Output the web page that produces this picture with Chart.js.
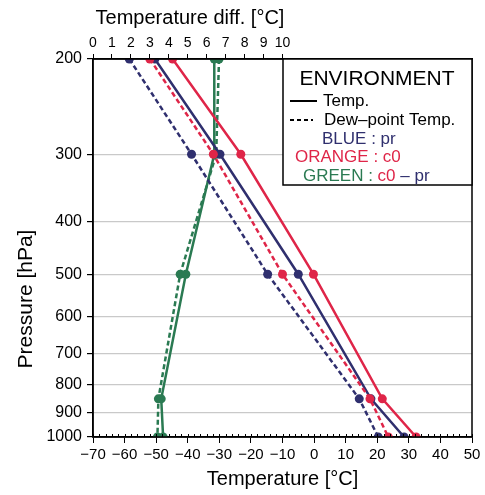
<!DOCTYPE html>
<html>
<head>
<meta charset="utf-8">
<script src="https://cdn.jsdelivr.net/npm/chart.js@4/dist/chart.umd.min.js"></script>
<style>
  html, body { margin: 0; padding: 0; background: #fff; }
  canvas { display: block; }
</style>
</head>
<body>
<canvas id="sounding" width="485" height="495"></canvas>
<script>
// pressure levels with data (hPa) and axis tick levels
const levels = [200, 300, 500, 850, 1000];
const pressureTicks = [200, 300, 400, 500, 600, 700, 800, 900, 1000];
const tempTicks = [-70, -60, -50, -40, -30, -20, -10, 0, 10, 20, 30, 40, 50];
const diffTicks = [0, 1, 2, 3, 4, 5, 6, 7, 8, 9, 10];

// environment profiles (degC)
const prTemp = [-50.4, -29.8, -5.0, 18.0, 28.5];
const prDew = [-58.5, -38.8, -14.7, 14.3, 20.3];
const c0Temp = [-44.8, -23.2, -0.2, 21.6, 32.3];
const c0Dew = [-52.0, -31.9, -10.0, 17.7, 23.5];
// c0 - pr differences (top axis)
const diffTemp = [6.4, 6.4, 4.9, 3.6, 3.7];
const diffDew = [6.65, 6.5, 4.6, 3.45, 3.4];

const BLUE = "#2f2f6e";
const RED = "#df2548";
const GREEN = "#2a7a52";
const FONT = "'Liberation Sans', Arial, Helvetica, sans-serif";

function profile(values, color, dashed, axis) {
    return {
        data: values.map((v, i) => ({ x: v, y: levels[i] })),
        xAxisID: axis,
        yAxisID: "y",
        borderColor: color,
        backgroundColor: color,
        borderWidth: 2.5,
        borderDash: dashed ? [5, 3] : [],
        pointRadius: 4.5,
        pointHoverRadius: 4.5,
        pointBorderWidth: 0,
        showLine: true,
        tension: 0,
    };
}

const minus = v => (v < 0 ? "\u2212" + Math.abs(v) : String(v));

const extras = {
    id: "extras",
    afterDraw(chart) {
        const { ctx, chartArea: a } = chart;
        const xs = chart.scales.x;
        ctx.save();

        // frame
        ctx.strokeStyle = "#000";
        ctx.lineWidth = 1.5;
        ctx.strokeRect(a.left, a.top, a.right - a.left, a.bottom - a.top);

        // minor ticks along the bottom axis
        ctx.lineWidth = 1;
        ctx.beginPath();
        for (let t = -70; t <= 50; t += 2) {
            const px = Math.round(xs.getPixelForValue(t)) + 0.5;
            ctx.moveTo(px, a.bottom);
            ctx.lineTo(px, a.bottom - 3);
        }
        ctx.stroke();

        // axis titles
        ctx.fillStyle = "#000";
        ctx.font = "20px " + FONT;
        ctx.textAlign = "center";
        ctx.textBaseline = "middle";
        ctx.fillText("Temperature diff. [\u00b0C]", 190, 18);
        ctx.fillText("Temperature [\u00b0C]", (a.left + a.right) / 2, 479);
        ctx.save();
        ctx.translate(26, 299);
        ctx.rotate(-Math.PI / 2);
        ctx.font = "21px " + FONT;
        ctx.fillText("Pressure [hPa]", 0, 0);
        ctx.restore();

        // legend box
        const bx = 283, by = a.top, bw = a.right - 283, bh = 185 - a.top;
        ctx.fillStyle = "#fff";
        ctx.fillRect(bx, by, bw, bh);
        ctx.strokeStyle = "#000";
        ctx.lineWidth = 1.5;
        ctx.strokeRect(bx, by, bw, bh);

        ctx.fillStyle = "#000";
        ctx.font = "21px " + FONT;
        ctx.fillText("ENVIRONMENT", 377, 79);

        ctx.font = "17px " + FONT;
        ctx.textAlign = "left";
        ctx.lineWidth = 2;
        ctx.beginPath();
        ctx.moveTo(290, 101);
        ctx.lineTo(317, 101);
        ctx.stroke();
        ctx.fillText("Temp.", 323, 101);
        ctx.setLineDash([4, 3]);
        ctx.beginPath();
        ctx.moveTo(290, 120);
        ctx.lineTo(313, 120);
        ctx.stroke();
        ctx.setLineDash([]);
        ctx.fillText("Dew\u2013point Temp.", 324, 120);

        const runs = (x, y, parts) => {
            for (const [txt, col] of parts) {
                ctx.fillStyle = col;
                ctx.fillText(txt, x, y);
                x += ctx.measureText(txt).width;
            }
        };
        runs(322, 139, [["BLUE : pr", BLUE]]);
        runs(295, 157, [["ORANGE : c0", RED]]);
        runs(303, 176, [["GREEN : ", GREEN], ["c0", RED], [" \u2013 pr", BLUE]]);

        ctx.restore();
    },
};

new Chart(document.getElementById("sounding"), {
    type: "scatter",
    data: {
        datasets: [
            profile(c0Temp, RED, false, "x"),
            profile(c0Dew, RED, true, "x"),
            profile(prTemp, BLUE, false, "x"),
            profile(prDew, BLUE, true, "x"),
            profile(diffTemp, GREEN, false, "x2"),
            profile(diffDew, GREEN, true, "x2"),
        ],
    },
    options: {
        responsive: false,
        animation: false,
        events: [],
        layout: { padding: { right: 13, left: 0, top: 0, bottom: 0 } },
        plugins: { legend: { display: false }, tooltip: { enabled: false } },
        scales: {
            x: {
                type: "linear",
                position: "bottom",
                min: -70,
                max: 50,
                afterBuildTicks: s => { s.ticks = tempTicks.map(v => ({ value: v })); },
                afterFit: s => { s.height = 58; },
                ticks: {
                    autoSkip: false,
                    maxRotation: 0,
                    padding: 3,
                    color: "#000",
                    font: { family: FONT, size: 15 },
                    callback: v => minus(v),
                },
                grid: { drawOnChartArea: false, tickLength: 6, tickColor: "#000", tickWidth: 1 },
                border: { color: "#000", width: 1.5 },
            },
            x2: {
                type: "linear",
                position: "top",
                min: 0,
                max: 20,
                afterBuildTicks: s => { s.ticks = diffTicks.map(v => ({ value: v })); },
                afterFit: s => { s.height = 59; },
                ticks: {
                    autoSkip: false,
                    maxRotation: 0,
                    padding: 2,
                    color: "#000",
                    font: { family: FONT, size: 14 },
                },
                grid: { drawOnChartArea: false, tickLength: 5, tickColor: "#000", tickWidth: 1 },
                border: { color: "#000", width: 1.5 },
            },
            y: {
                type: "logarithmic",
                reverse: true,
                min: 200,
                max: 1000,
                afterBuildTicks: s => { s.ticks = pressureTicks.map(v => ({ value: v })); },
                afterFit: s => { s.width = 93; },
                ticks: {
                    autoSkip: false,
                    padding: 5,
                    color: "#000",
                    font: { family: FONT, size: 16 },
                    callback: v => String(v),
                },
                grid: { color: "#c9c9c9", lineWidth: 1.2, tickLength: 6, tickColor: "#000" },
                border: { color: "#000", width: 1.5 },
            },
        },
    },
    plugins: [extras],
});
</script>
</body>
</html>
